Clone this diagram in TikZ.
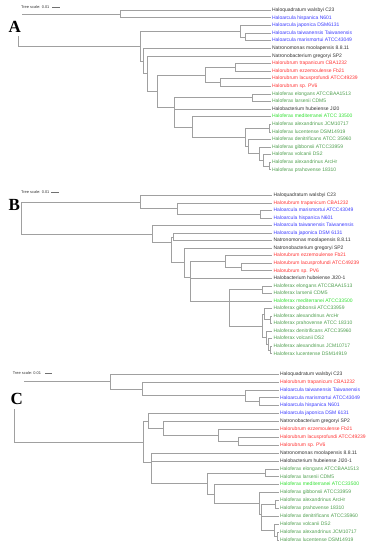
\documentclass[tikz,border=0pt]{standalone}
\usepackage{fontspec}
\setmainfont{Liberation Sans}
\newfontfamily\lettfont{Liberation Serif}
\definecolor{tk}{HTML}{333333}
\definecolor{tb}{HTML}{3C3CFF}
\definecolor{tr}{HTML}{FF3434}
\definecolor{tg}{HTML}{4E9E4E}
\definecolor{tbg}{HTML}{30E030}
\definecolor{linegray}{HTML}{A0A0A0}
\newcommand\lf[5]{\node[leaf,text=#4] (#1) at (#2,#3) {#5};}
\newcommand\edges[2]{\foreach \c in {#2}{\draw[br] (#1) |- (\c);}}
\begin{document}
\begin{tikzpicture}[x=1pt,y=-1pt,
  br/.style={draw=linegray,line width=0.45pt},
  leaf/.style={anchor=west,inner xsep=1.3pt,inner ysep=0pt,font=\fontsize{5}{6}\selectfont,text height=3.6pt,text depth=1pt},
  lett/.style={font=\fontsize{17}{17}\lettfont\bfseries,inner xsep=1pt,inner ysep=0pt,anchor=base west,text=black},
  mask/.style={fill=white},
  scl/.style={font=\fontsize{3.9}{4}\selectfont,anchor=west,inner sep=0pt,text=tk},
  sbar/.style={draw=tk!70,line width=0.35pt}]
\useasboundingbox (0,0) rectangle (380,550);

% ---------------- Panel A ----------------
\node[scl] (sAt) at (21,7) {Tree scale: 0.01};
\coordinate (sA1) at (52,7); \coordinate (sA2) at (60,7);
\draw[sbar] (sA1) -- (sA2);
\def\xa{270.5}
\lf{A0}{\xa}{10.3}{tk}{Haloquadratum walsbyi C23}
\lf{A1}{\xa}{17.7}{tb}{Haloarcula hispanica N601}
\lf{A2}{\xa}{25.4}{tb}{Haloarcula japonica DSM6131}
\lf{A3}{\xa}{33.0}{tb}{Haloarcula taiwanensis Taiwanensis}
\lf{A4}{\xa}{40.6}{tb}{Haloarcula marismortui ATCC43049}
\lf{A5}{\xa}{48.2}{tk}{Natronomonas moolapensis 8.8.11}
\lf{A6}{\xa}{55.8}{tk}{Natronobacterium gregoryi SP2}
\lf{A7}{\xa}{63.4}{tr}{Halorubrum trapanicum CBA1232}
\lf{A8}{\xa}{71.0}{tr}{Halorubrum ezzemoulense Fb21}
\lf{A9}{\xa}{78.6}{tr}{Halorubrum lacusprofundi ATCC49239}
\lf{A10}{\xa}{86.2}{tr}{Halorubrum sp. PV6}
\lf{A11}{\xa}{93.8}{tg}{Haloferax elongans ATCCBAA1513}
\lf{A12}{\xa}{101.4}{tg}{Haloferax larsenii CDM5}
\lf{A13}{\xa}{109.0}{tk}{Halobacterium hubeiense JI20}
\lf{A14}{\xa}{116.6}{tbg}{Haloferax mediterranei ATCC 33500}
\lf{A15}{\xa}{124.2}{tg}{Haloferax alexandrinus JCM10717}
\lf{A16}{\xa}{131.8}{tg}{Haloferax lucentense DSM14919}
\lf{A17}{\xa}{139.4}{tg}{Haloferax denitrificans ATCC 35960}
\lf{A18}{\xa}{147.0}{tg}{Haloferax gibbonsii ATCC33959}
\lf{A19}{\xa}{154.6}{tg}{Haloferax volcanii DS2}
\lf{A20}{\xa}{162.2}{tg}{Haloferax alexandrinus ArcHr}
\lf{A21}{\xa}{169.7}{tg}{Haloferax prahovense 18310}
\coordinate (Ar) at (18,30);
\coordinate (Aa1) at (120,14);
\coordinate (Aa2) at (140,46);
\coordinate (Aa3) at (240,31.1);
\coordinate (Aa5) at (245,36.8);
\coordinate (Aa4) at (143,60.85);
\coordinate (Aa6) at (147,73.5);
\coordinate (Aa7) at (157,91.25);
\coordinate (Aa8) at (205,74.8);
\coordinate (Aa10) at (235,67.2);
\coordinate (Aa11) at (220,82.4);
\coordinate (Aa9) at (174,107.7);
\coordinate (Aa12) at (252.7,97.6);
\coordinate (Aa13) at (192.3,126.9);
\coordinate (Aa14) at (245.3,137.25);
\coordinate (Aa15) at (269.3,128);
\coordinate (Aa16) at (248.3,146.5);
\coordinate (Aa17) at (259.3,153.65);
\coordinate (Aa18) at (263.3,160.3);
\coordinate (Aa19) at (269.3,165.95);
\edges{Ar}{Aa1,Aa2}
\edges{Aa1}{A0.west,A1.west}
\edges{Aa2}{Aa3,Aa4}
\edges{Aa3}{A2.west,Aa5}
\edges{Aa5}{A3.west,A4.west}
\edges{Aa4}{A5.west,Aa6}
\edges{Aa6}{A6.west,Aa7}
\edges{Aa7}{Aa8,Aa9}
\edges{Aa8}{Aa10,Aa11}
\edges{Aa10}{A7.west,A8.west}
\edges{Aa11}{A9.west,A10.west}
\edges{Aa9}{Aa12,A13.west,Aa13}
\edges{Aa12}{A11.west,A12.west}
\edges{Aa13}{A14.west,Aa14}
\edges{Aa14}{Aa15,Aa16}
\edges{Aa15}{A15.west,A16.west}
\edges{Aa16}{A17.west,Aa17}
\edges{Aa17}{A18.west,Aa18}
\edges{Aa18}{A19.west,Aa19}
\edges{Aa19}{A20.west,A21.west}
\node[lett,mask,text height=21pt,text depth=4pt] (LA) at (7.5,32) {A};

% ---------------- Panel B ----------------
\node[scl] (sBt) at (21,192.3) {Tree scale: 0.01};
\coordinate (sB1) at (51,192.3); \coordinate (sB2) at (58.5,192.3);
\draw[sbar] (sB1) -- (sB2);
\def\xb{272}
\lf{B0}{\xb}{195.3}{tk}{Haloquadratum walsbyi C23}
\lf{B1}{\xb}{202.9}{tr}{Halorubrum trapanicum CBA1232}
\lf{B2}{\xb}{210.4}{tb}{Haloarcula marismortui ATCC43049}
\lf{B3}{\xb}{218.0}{tb}{Haloarcula hispanica N601}
\lf{B4}{\xb}{225.5}{tb}{Haloarcula taiwanensis Taiwanensis}
\lf{B5}{\xb}{233.0}{tb}{Haloarcula japonica DSM 6131}
\lf{B6}{\xb}{240.6}{tk}{Natronomonas moolapensis 8.8.11}
\lf{B7}{\xb}{248.1}{tk}{Natronobacterium gregoryi SP2}
\lf{B8}{\xb}{255.6}{tr}{Halorubrum ezzemoulense Fb21}
\lf{B9}{\xb}{263.2}{tr}{Halorubrum lacusprofundi ATCC49239}
\lf{B10}{\xb}{270.7}{tr}{Halorubrum sp. PV6}
\lf{B11}{\xb}{278.2}{tk}{Halobacterium hubeiense JI20-1}
\lf{B12}{\xb}{285.8}{tg}{Haloferax elongans ATCCBAA1513}
\lf{B13}{\xb}{293.3}{tg}{Haloferax larsenii CDM5}
\lf{B14}{\xb}{300.9}{tbg}{Haloferax mediterranei ATCC33500}
\lf{B15}{\xb}{308.4}{tg}{Haloferax gibbonsii ATCC33959}
\lf{B16}{\xb}{315.9}{tg}{Haloferax alexandrinus ArcHr}
\lf{B17}{\xb}{323.5}{tg}{Haloferax prahovense ATCC 18310}
\lf{B18}{\xb}{331.0}{tg}{Haloferax denitrificans ATCC35960}
\lf{B19}{\xb}{338.6}{tg}{Haloferax volcanii DS2}
\lf{B20}{\xb}{346.1}{tg}{Haloferax alexandrinus JCM10717}
\lf{B21}{\xb}{353.7}{tg}{Haloferax lucentense DSM14919}
\coordinate (Br) at (21.3,217.95);
\coordinate (Bb1) at (140,201.9);
\coordinate (Bb2) at (177,208.55);
\coordinate (Bb3) at (260,214.2);
\coordinate (Bb4) at (152.3,234);
\coordinate (Bb5) at (171,242.5);
\coordinate (Bb6) at (173.5,236.8);
\coordinate (Bb7) at (184.5,262.55);
\coordinate (Bb8) at (190.3,277);
\coordinate (Bhr) at (225,261.3);
\coordinate (Bhr2) at (241.7,266.95);
\coordinate (Bb9) at (229,300.9);
\coordinate (Bb10) at (262.5,289.55);
\coordinate (Bb11) at (262.3,325.8);
\coordinate (Bc1) at (264.3,314.05);
\coordinate (Bc2) at (270,319.7);
\coordinate (Bc3) at (266.5,337.6);
\coordinate (Bc5) at (268.3,344.25);
\coordinate (Bc4) at (270.5,349.9);
\edges{Br}{Bb1,Bb4}
\edges{Bb1}{B0.west,Bb2}
\edges{Bb2}{B1.west,Bb3}
\edges{Bb3}{B2.west,B3.west}
\edges{Bb4}{B4.west,Bb5}
\edges{Bb5}{Bb6,Bb7}
\edges{Bb6}{B5.west,B6.west}
\edges{Bb7}{B7.west,Bb8}
\edges{Bb8}{Bhr,B11.west,Bb9}
\edges{Bhr}{B8.west,Bhr2}
\edges{Bhr2}{B9.west,B10.west}
\edges{Bb9}{Bb10,B14.west,Bb11}
\edges{Bb10}{B12.west,B13.west}
\edges{Bb11}{Bc1,Bc3}
\edges{Bc1}{B15.west,Bc2}
\edges{Bc2}{B16.west,B17.west}
\edges{Bc3}{B18.west,Bc5}
\edges{Bc5}{B19.west,Bc4}
\edges{Bc4}{B20.west,B21.west}
\node[lett] (LB) at (7.5,210) {B};

% ---------------- Panel C ----------------
\node[scl] (sCt) at (12.7,372.7) {Tree scale: 0.01};
\coordinate (sC1) at (45,372.7); \coordinate (sC2) at (51.7,372.7);
\draw[sbar] (sC1) -- (sC2);
\def\xc{278.5}
\lf{C0}{\xc}{374.0}{tk}{Haloquadratum walsbyi C23}
\lf{C1}{\xc}{381.9}{tr}{Halorubrum trapanicum CBA1232}
\lf{C2}{\xc}{389.8}{tb}{Haloarcula taiwanensis Taiwanensis}
\lf{C3}{\xc}{397.7}{tb}{Haloarcula marismortui ATCC43049}
\lf{C4}{\xc}{405.6}{tb}{Haloarcula hispanica N601}
\lf{C5}{\xc}{413.5}{tb}{Haloarcula japonica DSM 6131}
\lf{C6}{\xc}{421.4}{tk}{Natronobacterium gregoryi SP2}
\lf{C7}{\xc}{429.3}{tr}{Halorubrum ezzemoulense Fb21}
\lf{C8}{\xc}{437.2}{tr}{Halorubrum lacusprofundi ATCC49239}
\lf{C9}{\xc}{445.1}{tr}{Halorubrum sp. PV6}
\lf{C10}{\xc}{453.0}{tk}{Natronomonas moolapensis 8.8.11}
\lf{C11}{\xc}{460.9}{tk}{Halobacterium hubeiense JI20-1}
\lf{C12}{\xc}{468.8}{tg}{Haloferax elongans ATCCBAA1513}
\lf{C13}{\xc}{476.7}{tg}{Haloferax larsenii CDM5}
\lf{C14}{\xc}{484.6}{tbg}{Haloferax mediterranei ATCC33500}
\lf{C15}{\xc}{492.5}{tg}{Haloferax gibbonsii ATCC33959}
\lf{C16}{\xc}{500.4}{tg}{Haloferax alexandrinus ArcHr}
\lf{C17}{\xc}{508.3}{tg}{Haloferax prahovense 18310}
\lf{C18}{\xc}{516.2}{tg}{Haloferax denitrificans ATCC35960}
\lf{C19}{\xc}{524.1}{tg}{Haloferax volcanii DS2}
\lf{C20}{\xc}{532.0}{tg}{Haloferax alexandrinus JCM10717}
\lf{C21}{\xc}{539.9}{tg}{Haloferax lucentense DSM14919}
\coordinate (Cr) at (14,411.6);
\coordinate (CA) at (110,381.4);
\coordinate (CA2) at (142.7,388.8);
\coordinate (CA3) at (245,395.7);
\coordinate (CA4) at (259.3,401.65);
\coordinate (CB) at (143,441.8);
\coordinate (CB1) at (148.3,420.9);
\coordinate (CB2) at (163,428.3);
\coordinate (CB3) at (218,435.2);
\coordinate (CB4) at (238.3,441.15);
\coordinate (CB5) at (151,462.7);
\coordinate (CB6) at (207,483.3);
\coordinate (CB7) at (265.7,472.75);
\coordinate (CB8) at (214.3,493.9);
\coordinate (CB9) at (259,503.25);
\coordinate (CB10) at (261.7,514);
\coordinate (CB11) at (275,504.35);
\coordinate (CB12) at (274.3,530);
\coordinate (CB13) at (277.3,535.95);
\edges{Cr}{CA,CB}
\edges{CA}{C0.west,CA2}
\edges{CA2}{C1.west,CA3}
\edges{CA3}{C2.west,CA4}
\edges{CA4}{C3.west,C4.west}
\edges{CB}{CB1,CB5}
\edges{CB1}{C5.west,CB2}
\edges{CB2}{C6.west,CB3}
\edges{CB3}{C7.west,CB4}
\edges{CB4}{C8.west,C9.west}
\edges{CB5}{C10.west,C11.west,CB6}
\edges{CB6}{CB7,CB8}
\edges{CB7}{C12.west,C13.west}
\edges{CB8}{C14.west,CB9}
\edges{CB9}{C15.west,CB10}
\edges{CB10}{CB11,C18.west,CB12}
\edges{CB11}{C16.west,C17.west}
\edges{CB12}{C19.west,CB13}
\edges{CB13}{C20.west,C21.west}
\node[lett,mask,text height=27pt,text depth=4pt] (LC) at (9.5,404.5) {C};
\end{tikzpicture}
\end{document}
